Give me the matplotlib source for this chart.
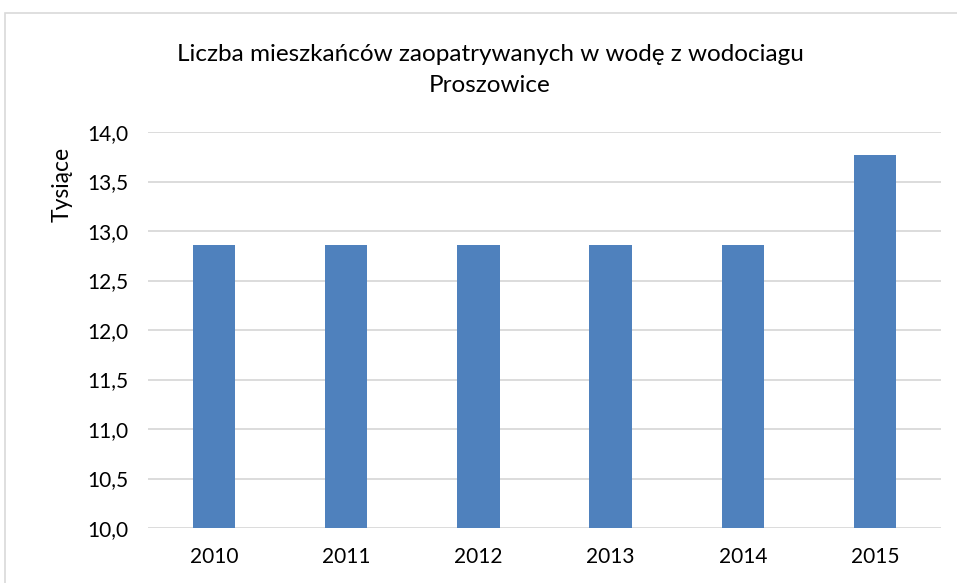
import matplotlib
matplotlib.use("Agg")
import matplotlib.pyplot as plt
from matplotlib.patches import Rectangle

years = ["2010", "2011", "2012", "2013", "2014", "2015"]
values = [12.86, 12.86, 12.86, 12.86, 12.86, 13.77]
yticks = [10.0, 10.5, 11.0, 11.5, 12.0, 12.5, 13.0, 13.5, 14.0]
title = "Liczba mieszkańców zaopatrywanych w wodę z wodociagu\nProszowice"
ylabel = "Tysiące"

plt.rcParams['font.family'] = ['Lato', 'DejaVu Sans']

W, H = 957, 583
fig = plt.figure(figsize=(W/100, H/100), dpi=100)
ax = fig.add_axes([148/W, 1-528/H, (941-148)/W, (528-132)/H])

x = list(range(len(years)))
ax.bar(x, values, width=0.32, color="#4F81BD", zorder=3)
ax.set_xlim(-0.5, len(years)-0.5)
ax.set_ylim(10.0, 14.0)
ax.set_yticks(yticks)
ax.set_yticklabels([f"{v:.1f}".replace(".", ",") for v in yticks], fontsize=15)
ax.set_xticks(x)
ax.set_xticklabels(years, fontsize=15)
ax.tick_params(length=0, pad=14)
ax.tick_params(axis='x', pad=14)
ax.grid(axis='y', color="#D9D9D9", linewidth=1.3, zorder=0)
for s in ax.spines.values():
    s.set_visible(False)

fig.text(62/W, 1-184/H, ylabel, rotation=90, ha="center", va="center", fontsize=16.5)

fig.text(490/W, 1-70/H, title, ha="center", va="center",
         fontsize=17.5, linespacing=1.6)

fig.patches.append(Rectangle((5/W, -0.1), 1.2, 1-13/H+0.1, transform=fig.transFigure,
                             fill=False, edgecolor="#D9D9D9", linewidth=1.2))
fig.savefig("out.png", dpi=100)
